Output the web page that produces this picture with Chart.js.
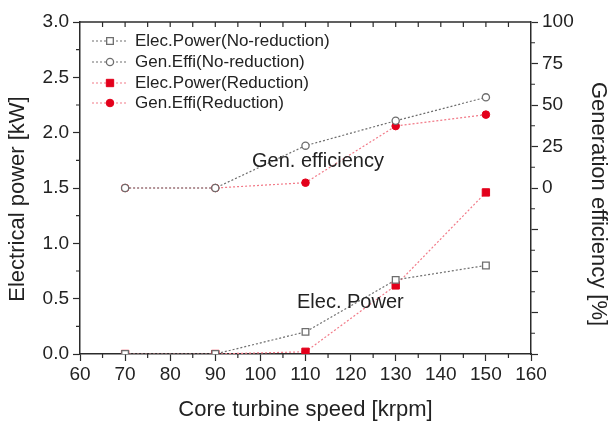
<!DOCTYPE html>
<html>
<head>
<meta charset="utf-8">
<script src="https://cdn.jsdelivr.net/npm/chart.js@4.4.1/dist/chart.umd.min.js"></script>
<style>
  html, body { margin: 0; padding: 0; background: #fff; }
  #wrap { width: 613px; height: 424px; }
</style>
</head>
<body>
<div id="wrap"><canvas id="turbineChart" width="613" height="424"></canvas></div>
<script>
// core turbine speed [krpm]
const speeds = [70, 90, 110, 130, 150];
// electrical power [kW]
const powerNoReduction = [0, 0, 0.2, 0.67, 0.8];
const powerReduction = [0, 0, 0.02, 0.62, 1.46];
// generation efficiency [%]
const effiNoReduction = [0, 0, 25.5, 40.5, 54.6];
const effiReduction = [0, 0, 3.2, 37.3, 44.2];

const seriesLabels = [
    'Elec.Power(No-reduction)',
    'Gen.Effi(No-reduction)',
    'Elec.Power(Reduction)',
    'Gen.Effi(Reduction)'
];
const notes = [
    { text: 'Gen. efficiency', x: 252, y: 167 },
    { text: 'Elec. Power', x: 297, y: 308 }
];
// side titles: text, centre x, centre y, rotation
const sideTitles = [
    { text: 'Electrical power [kW]', x: 18, y: 199, rot: -Math.PI / 2 },
    { text: 'Generation efficiency [%]', x: 598, y: 204, rot: Math.PI / 2 }
];

const AXIS = '#2b2b2b';
const GREY = '#6e6e6e';
const RED = '#e3001b';
const PINK = '#f27a88';
const FONT = 'Liberation Sans, Arial, sans-serif';

const toPoints = (ys) => speeds.map((s, i) => ({ x: s, y: ys[i] }));

// minor ticks, mirrored top ticks, top frame line, legend and text
const frameExtras = {
    id: 'frameExtras',
    afterDatasetsDraw(chart) {
        const ctx = chart.ctx;
        const { left, right, top, bottom } = chart.chartArea;
        const x = chart.scales.x, y = chart.scales.y, y1 = chart.scales.y1;
        ctx.save();
        ctx.strokeStyle = AXIS;
        ctx.lineWidth = 1.5;
        ctx.beginPath();
        ctx.moveTo(left, top);
        ctx.lineTo(right, top);
        ctx.stroke();

        ctx.lineWidth = 1.2;
        ctx.beginPath();
        for (let v = 65; v < 160; v += 10) {
            const px = x.getPixelForValue(v);
            ctx.moveTo(px, bottom); ctx.lineTo(px, bottom + 4);
        }
        for (let v = 65; v < 160; v += 5) {
            const px = x.getPixelForValue(v);
            ctx.moveTo(px, top); ctx.lineTo(px, top + 5);
        }
        for (let v = 0.25; v < 3; v += 0.5) {
            const py = y.getPixelForValue(v);
            ctx.moveTo(left, py); ctx.lineTo(left - 4, py);
        }
        for (let v = -87.5; v < 100; v += 25) {
            const py = y1.getPixelForValue(v);
            ctx.moveTo(right, py); ctx.lineTo(right + 4, py);
        }
        ctx.stroke();

        // legend
        ctx.font = '17px ' + FONT;
        ctx.textBaseline = 'middle';
        ctx.textAlign = 'left';
        const rows = [41, 62, 83, 103];
        chart.data.datasets.forEach((ds, i) => {
            const ry = rows[i];
            ctx.strokeStyle = ds.borderColor;
            ctx.lineWidth = ds.borderWidth;
            ctx.setLineDash(ds.borderDash);
            ctx.beginPath();
            ctx.moveTo(92, ry); ctx.lineTo(128, ry);
            ctx.stroke();
            ctx.setLineDash([]);
            ctx.fillStyle = ds.pointBackgroundColor;
            ctx.strokeStyle = ds.pointBorderColor;
            ctx.lineWidth = ds.pointBorderWidth;
            Chart.helpers.drawPoint(ctx, { pointStyle: ds.pointStyle, radius: ds.pointRadius, borderWidth: ds.pointBorderWidth }, 110, ry);
            ctx.fillStyle = '#222';
            ctx.fillText(ds.label, 135, ry);
        });

        ctx.font = '20px ' + FONT;
        ctx.textBaseline = 'alphabetic';
        ctx.fillStyle = '#222';
        notes.forEach(n => ctx.fillText(n.text, n.x, n.y));

        ctx.font = '22px ' + FONT;
        ctx.textAlign = 'center';
        ctx.textBaseline = 'middle';
        sideTitles.forEach(t => {
            ctx.save();
            ctx.translate(t.x, t.y);
            ctx.rotate(t.rot);
            ctx.fillText(t.text, 0, 0);
            ctx.restore();
        });
        ctx.restore();
    }
};

const tickFont = { family: FONT, size: 19 };
const titleFont = { family: FONT, size: 22 };

new Chart(document.getElementById('turbineChart'), {
    type: 'line',
    data: {
        datasets: [{
            label: seriesLabels[0],
            data: toPoints(powerNoReduction),
            yAxisID: 'y',
            borderColor: GREY,
            borderWidth: 1.2,
            borderDash: [2, 2],
            pointStyle: 'rect',
            pointRadius: 4.7,
            pointBorderWidth: 1.3,
            pointBorderColor: GREY,
            pointBackgroundColor: '#fff'
        }, {
            label: seriesLabels[1],
            data: toPoints(effiNoReduction),
            yAxisID: 'y1',
            borderColor: GREY,
            borderWidth: 1.2,
            borderDash: [2, 2],
            pointStyle: 'circle',
            pointRadius: 3.6,
            pointBorderWidth: 1.3,
            pointBorderColor: GREY,
            pointBackgroundColor: '#fff'
        }, {
            label: seriesLabels[2],
            data: toPoints(powerReduction),
            yAxisID: 'y',
            borderColor: PINK,
            borderWidth: 1.2,
            borderDash: [2, 2],
            pointStyle: 'rect',
            pointRadius: 5.2,
            pointBorderWidth: 1,
            pointBorderColor: RED,
            pointBackgroundColor: RED
        }, {
            label: seriesLabels[3],
            data: toPoints(effiReduction),
            yAxisID: 'y1',
            borderColor: PINK,
            borderWidth: 1.2,
            borderDash: [2, 2],
            pointStyle: 'circle',
            pointRadius: 3.8,
            pointBorderWidth: 1,
            pointBorderColor: RED,
            pointBackgroundColor: RED
        }]
    },
    options: {
        responsive: false,
        animation: false,
        layout: { padding: { top: 22, left: 0, right: 0, bottom: 0 } },
        plugins: {
            legend: { display: false },
            tooltip: { enabled: false }
        },
        scales: {
            x: {
                type: 'linear',
                min: 60, max: 160,
                afterFit: (s) => { s.height = 70; },
                ticks: { stepSize: 10, color: '#222', font: tickFont, padding: 2, maxRotation: 0 },
                grid: { drawOnChartArea: false, tickLength: 7, tickColor: AXIS, tickWidth: 1.2 },
                border: { color: AXIS, width: 1.5 },
                title: { display: true, text: 'Core turbine speed [krpm]', color: '#222', font: titleFont, padding: { top: 0, bottom: 1 } }
            },
            y: {
                position: 'left',
                min: 0, max: 3,
                afterFit: (s) => { s.width = 80; },
                ticks: { stepSize: 0.5, color: '#222', font: tickFont, padding: 4, callback: (v) => v.toFixed(1) },
                grid: { drawOnChartArea: false, tickLength: 7, tickColor: AXIS, tickWidth: 1.2 },
                border: { color: AXIS, width: 1.5 }
            },
            y1: {
                position: 'right',
                min: -100, max: 100,
                afterFit: (s) => { s.width = 82; },
                ticks: { stepSize: 25, color: '#222', font: tickFont, padding: 4, callback: (v) => (v >= 0 ? v : '') },
                grid: { drawOnChartArea: false, tickLength: 7, tickColor: AXIS, tickWidth: 1.2 },
                border: { color: AXIS, width: 1.5 }
            }
        }
    },
    plugins: [frameExtras]
});
</script>
</body>
</html>
